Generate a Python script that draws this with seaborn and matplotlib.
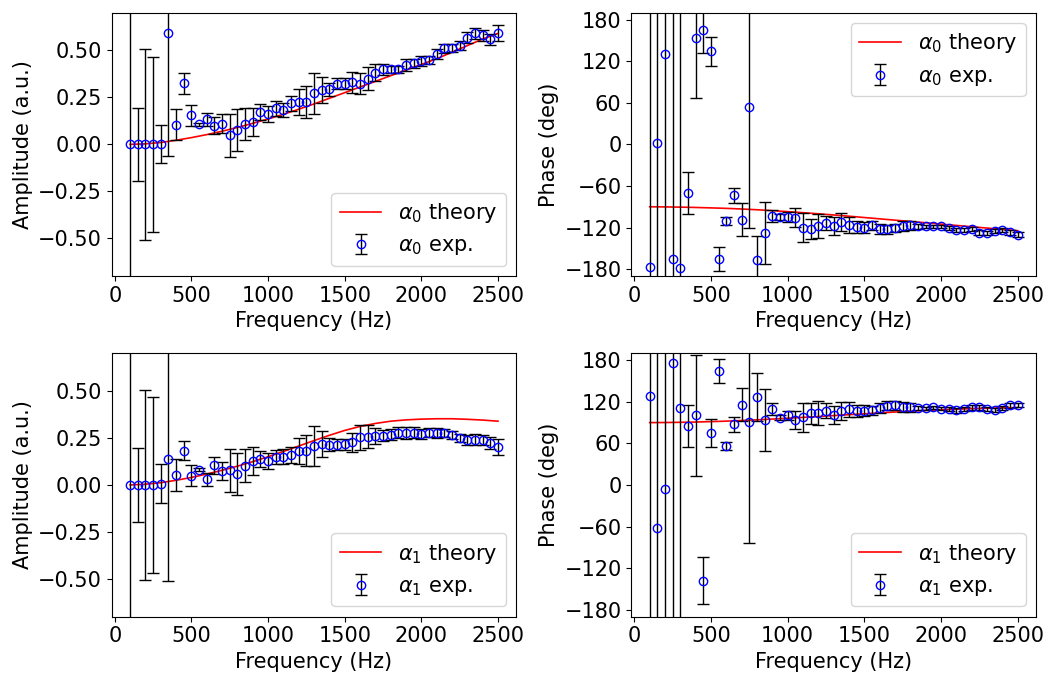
import numpy as np
import pandas as pd
import matplotlib
matplotlib.use("Agg")
import matplotlib.pyplot as plt
import seaborn as sns

# ---------------- data ----------------
freq = list(range(100, 2501, 50))  # 49 measurement frequencies (Hz)

amp0 = [0.0, 0.0, 0.0, 0.0, 0.003, 0.59, 0.105, 0.324, 0.154, 0.106,
        0.133, 0.098, 0.11, 0.048, 0.078, 0.108, 0.119, 0.172, 0.161, 0.191,
        0.181, 0.218, 0.223, 0.223, 0.273, 0.287, 0.293, 0.323, 0.323, 0.330,
        0.323, 0.349, 0.381, 0.399, 0.399, 0.399, 0.420, 0.431, 0.443, 0.449,
        0.480, 0.511, 0.511, 0.525, 0.567, 0.590, 0.580, 0.559, 0.594]
amp0_err = [2.0, 0.195, 0.507, 0.466, 0.10, 0.65, 0.082, 0.054, 0.057, 0.01,
            0.035, 0.045, 0.05, 0.114, 0.112, 0.087, 0.075, 0.045, 0.043, 0.04,
            0.038, 0.041, 0.069, 0.085, 0.109, 0.069, 0.035, 0.028, 0.029, 0.056,
            0.054, 0.061, 0.044, 0.029, 0.02, 0.02, 0.032, 0.024, 0.025, 0.022,
            0.026, 0.025, 0.02, 0.023, 0.03, 0.029, 0.03, 0.03, 0.043]

ph0 = [-176.6, 1.9, 130.6, -165.6, -177.6, -70.0, 153.0, 165.6, 134.4, -165.6,
       -110.4, -73.4, -108.5, 53.8, -166.6, -127.7, -103.2, -104.6, -104.6, -105.6,
       -120.0, -122.0, -118.0, -112.8, -117.6, -111.8, -115.7, -119.0, -120.0, -117.0,
       -121.4, -122.4, -120.0, -117.6, -117.0, -118.0, -118.0, -118.0, -118.0, -121.0,
       -123.4, -123.4, -122.4, -127.2, -128.2, -125.3, -123.8, -126.7, -130.0]
ph0_err = [400, 400, 400, 400, 400, 30, 86, 34, 21, 17,
           5.5, 10.5, 24, 175, 35, 44.4, 8.6, 4, 7, 13.7,
           21, 15, 17, 10, 13, 12.7, 11.5, 8.4, 7.7, 6.5,
           7.2, 6.7, 5.8, 7, 6, 3.4, 2, 2, 2, 3,
           3, 3, 3, 3, 3, 3, 3, 3.5, 3]

amp1 = [0.0, 0.0, 0.0, 0.0, 0.007, 0.14, 0.053, 0.183, 0.048, 0.08,
        0.03, 0.105, 0.073, 0.078, 0.059, 0.103, 0.128, 0.138, 0.128, 0.149,
        0.151, 0.158, 0.179, 0.183, 0.207, 0.218, 0.215, 0.215, 0.216, 0.227,
        0.254, 0.257, 0.259, 0.262, 0.268, 0.278, 0.277, 0.278, 0.271, 0.278,
        0.277, 0.277, 0.266, 0.25, 0.238, 0.241, 0.238, 0.223, 0.204]
amp1_err = [2.0, 0.195, 0.505, 0.466, 0.105, 0.65, 0.083, 0.052, 0.056, 0.008,
            0.036, 0.044, 0.048, 0.114, 0.112, 0.086, 0.075, 0.041, 0.043, 0.038,
            0.039, 0.043, 0.069, 0.084, 0.108, 0.07, 0.035, 0.028, 0.03, 0.05,
            0.066, 0.06, 0.043, 0.028, 0.027, 0.03, 0.032, 0.028, 0.027, 0.024,
            0.028, 0.023, 0.021, 0.021, 0.027, 0.03, 0.028, 0.033, 0.043]

ph1 = [128.6, -61.4, -5.3, 176.6, 110.4, 85.4, 100.3, -138.2, 74.9, 164.2,
       56.2, 87.4, 115.7, 90.2, 127.2, 94.1, 109.0, 97.0, 100.3, 93.6,
       97.4, 103.2, 103.7, 107.0, 101.3, 107.0, 109.0, 107.0, 107.0, 107.5,
       110.4, 114.2, 114.7, 112.3, 111.8, 110.9, 110.4, 112.3, 109.9, 109.4,
       107.5, 109.4, 111.8, 111.8, 109.9, 108.0, 111.4, 114.7, 115.7]
ph1_err = [400, 400, 400, 400, 400, 30, 87, 34, 20.6, 17,
           5.5, 10.8, 23.8, 174, 35, 44.4, 8.6, 3.4, 7, 13.4,
           21, 14.6, 17.3, 10.6, 12.7, 13, 10.6, 8.9, 7.7, 6.7,
           7.2, 6.7, 6.7, 7, 5.8, 3, 2, 2, 2, 3,
           3, 3, 3, 3, 3, 3, 3, 3, 3]

# theory curves (every 100 Hz)
freq_th = list(range(100, 2501, 100))
amp0_th = [0.0, 0.003, 0.01, 0.022, 0.036, 0.052, 0.07, 0.09, 0.112, 0.135,
           0.16, 0.187, 0.215, 0.245, 0.275, 0.305, 0.335, 0.365, 0.395, 0.425,
           0.455, 0.49, 0.525, 0.56, 0.59]
ph0_th = [-90.0, -90.2, -90.5, -91.0, -91.6, -92.3, -93.2, -94.3, -95.6, -97.0,
          -98.5, -100.1, -101.8, -103.6, -105.5, -107.4, -109.3, -111.2, -113.1, -115.0,
          -116.9, -118.8, -120.7, -122.6, -124.5]
amp1_th = [0.0, 0.004, 0.012, 0.025, 0.04, 0.058, 0.078, 0.1, 0.124, 0.15,
           0.178, 0.207, 0.236, 0.264, 0.29, 0.311, 0.327, 0.339, 0.346, 0.35,
           0.352, 0.352, 0.349, 0.345, 0.339]
ph1_th = [90.0, 90.1, 90.4, 90.8, 91.4, 92.1, 93.0, 94.0, 95.1, 96.3,
          97.5, 98.8, 100.1, 101.4, 102.7, 104.0, 105.2, 106.4, 107.5, 108.5,
          109.4, 110.2, 110.8, 111.2, 111.5]

# ---------------- plotting ----------------
plt.rcParams['font.size'] = 15
fig, axes = plt.subplots(2, 2, figsize=(10.49, 6.75), dpi=100)
fig.subplots_adjust(left=0.1065, right=0.9876, top=0.9812, bottom=0.0864,
                    wspace=0.284, hspace=0.293)

panels = [
    (axes[0, 0], amp0_th, amp0, amp0_err, 0, "Amplitude (a.u.)", "lower right", "amp"),
    (axes[0, 1], ph0_th, ph0, ph0_err, 0, "Phase (deg)", "upper right", "ph"),
    (axes[1, 0], amp1_th, amp1, amp1_err, 1, "Amplitude (a.u.)", "lower right", "amp"),
    (axes[1, 1], ph1_th, ph1, ph1_err, 1, "Phase (deg)", "lower right", "ph"),
]

for ax, th, val, err, k, ylab, loc, kind in panels:
    df_th = pd.DataFrame({"f": freq_th, "v": th})
    sns.lineplot(data=df_th, x="f", y="v", ax=ax, color="red", linewidth=1.2,
                 label=rf"$\alpha_{k}$ theory")
    ax.errorbar(freq, val, yerr=err, fmt="o", mfc="none", mec="blue", ms=6,
                mew=1.0, ecolor="black", elinewidth=1.0, capsize=4,
                label=rf"$\alpha_{k}$ exp.")
    ax.set_xlim(-20, 2620)
    ax.set_xticks([0, 500, 1000, 1500, 2000, 2500])
    if kind == "amp":
        ax.set_ylim(-0.7, 0.7)
        ax.set_yticks([-0.5, -0.25, 0.0, 0.25, 0.5])
        ax.set_yticklabels(["\u22120.50", "\u22120.25", "0.00", "0.25", "0.50"])
    else:
        ax.set_ylim(-190, 190)
        ax.set_yticks([-180, -120, -60, 0, 60, 120, 180])
    ax.set_xlabel("Frequency (Hz)")
    ax.set_ylabel(ylab)
    ax.legend(loc=loc, fontsize=15)

fig.savefig("out.png", dpi=100)
